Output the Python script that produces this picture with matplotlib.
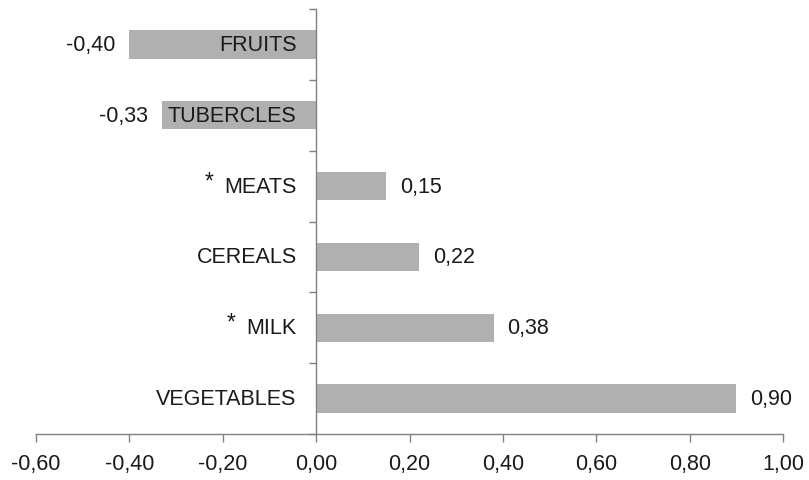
import matplotlib.pyplot as plt
import numpy as np

# data, bottom to top
categories = ["VEGETABLES", "MILK", "CEREALS", "MEATS", "TUBERCLES", "FRUITS"]
values = [0.90, 0.38, 0.22, 0.15, -0.33, -0.40]
starred = [False, True, False, True, False, False]
x_ticks = [-0.6, -0.4, -0.2, 0.0, 0.2, 0.4, 0.6, 0.8, 1.0]

plt.rcParams["font.family"] = ["Liberation Sans", "DejaVu Sans"]
FS = 15.5
AXIS_COL = "#808080"
TXT_COL = "#1a1a1a"


def fmt(v):
    return f"{v:.2f}".replace(".", ",")


def main():
    fig = plt.figure(figsize=(8.09, 4.81), dpi=100)
    ax = fig.add_axes([36 / 809, 46 / 481, 747 / 809, 425 / 481])

    y = np.arange(len(categories))
    ax.barh(y, values, height=0.4, color="#b0b0b0", zorder=2)

    ax.set_xlim(-0.6, 1.0)
    ax.set_ylim(-0.5, len(categories) - 0.5)

    # spines
    for s in ["top", "right"]:
        ax.spines[s].set_visible(False)
    ax.spines["left"].set_position(("data", 0))
    for s in ["left", "bottom"]:
        ax.spines[s].set_color(AXIS_COL)
        ax.spines[s].set_linewidth(1.0)

    ax.set_xticks(x_ticks)
    ax.set_xticklabels([fmt(t) for t in x_ticks], fontsize=FS, color=TXT_COL)
    ax.tick_params(axis="x", direction="out", length=6, width=1, color=AXIS_COL, pad=8)

    ax.set_yticks(np.arange(-0.5, len(categories), 1.0))
    ax.set_yticklabels([])
    ax.tick_params(axis="y", direction="out", length=5, width=1, color=AXIS_COL)

    renderer = fig.canvas.get_renderer()

    # category labels left of the zero axis, value labels at bar ends
    for yi, cat, v, st in zip(y, categories, values, starred):
        lab = ax.annotate(cat, (0, yi), xytext=(-14, 0), textcoords="offset points",
                          ha="right", va="center", fontsize=FS, color=TXT_COL, zorder=3)
        if st:
            w_pt = lab.get_window_extent(renderer).width * 72 / fig.dpi
            ax.annotate("*", (0, yi), xytext=(-14 - w_pt - 8, 4),
                        textcoords="offset points", ha="right", va="center",
                        fontsize=FS + 1, color=TXT_COL)
        if v < 0:
            ax.annotate(fmt(v), (v, yi), xytext=(-10, 0), textcoords="offset points",
                        ha="right", va="center", fontsize=FS, color=TXT_COL)
        else:
            ax.annotate(fmt(v), (v, yi), xytext=(10, 0), textcoords="offset points",
                        ha="left", va="center", fontsize=FS, color=TXT_COL)

    fig.savefig("out.png", dpi=100)


if __name__ == "__main__":
    main()
